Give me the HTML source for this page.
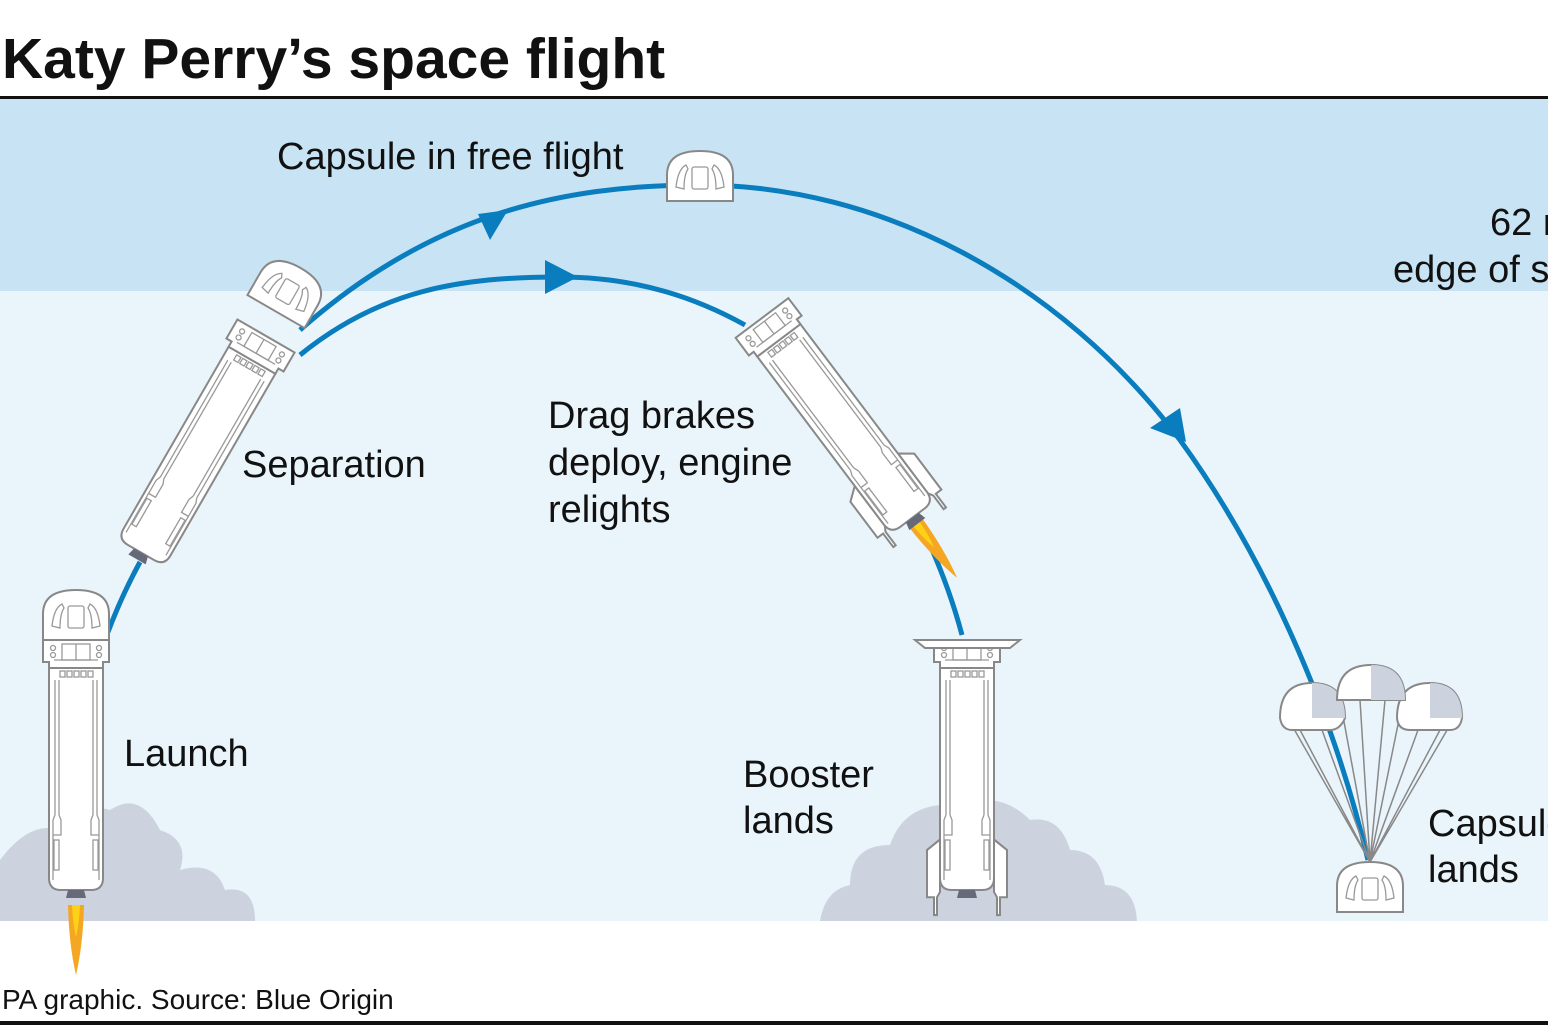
<!DOCTYPE html>
<html><head><meta charset="utf-8"><style>
html,body{margin:0;padding:0;background:#fff;}
svg{display:block;}
text{font-family:"Liberation Sans",Arial,sans-serif;fill:#111;}
</style></head><body>
<svg width="1548" height="1032" viewBox="0 0 1548 1032" xmlns="http://www.w3.org/2000/svg">
<defs>
  <g id="booster" fill="#fff" stroke="#888" stroke-width="2">
    <path d="M-27,28 L-27,238 Q-27,250 -15,250 L15,250 Q27,250 27,238 L27,28 Z"/>
    <path d="M-33,0 L33,0 L33,22 L27,22 L27,28 L-27,28 L-27,22 L-33,22 Z"/>
    <g fill="none" stroke="#999" stroke-width="1.3">
      <rect x="-14" y="4" width="28" height="16"/>
      <line x1="0" y1="4" x2="0" y2="20"/>
      <line x1="-22" y1="20" x2="22" y2="20"/>
      <circle cx="-23" cy="8" r="2.5"/><circle cx="-23" cy="15" r="2.5"/>
      <circle cx="23" cy="8" r="2.5"/><circle cx="23" cy="15" r="2.5"/>
      <rect x="-16" y="31" width="5" height="6"/><rect x="-9" y="31" width="5" height="6"/><rect x="-2" y="31" width="5" height="6"/><rect x="5" y="31" width="5" height="6"/><rect x="12" y="31" width="5" height="6"/>
      <line x1="-21" y1="40" x2="-21" y2="175"/><line x1="-17" y1="40" x2="-17" y2="175"/>
      <line x1="21" y1="40" x2="21" y2="175"/><line x1="17" y1="40" x2="17" y2="175"/>
      <path d="M-21,175 L-23,180 L-23,240 M-17,175 L-15,180 L-15,195 L-23,195"/>
      <path d="M21,175 L23,180 L23,240 M17,175 L15,180 L15,195 L23,195"/>
      <rect x="-22" y="200" width="5" height="30"/><rect x="17" y="200" width="5" height="30"/>
    </g>
    <path d="M-8,250 L8,250 L10,258 L-10,258 Z" fill="#666a78" stroke="none"/>
  </g>
  <g id="capsule" fill="#fff" stroke="#888" stroke-width="2">
    <path d="M-33,48 L-33,22 Q-33,-2 0,-2 Q33,-2 33,22 L33,48 Z"/>
    <g fill="none" stroke="#999" stroke-width="1.3">
      <rect x="-8" y="14" width="16" height="22" rx="2"/>
      <path d="M-14,12 Q-22,16 -24,34 L-16,36 Q-16,22 -12,16 Z"/>
      <path d="M14,12 Q22,16 24,34 L16,36 Q16,22 12,16 Z"/>
    </g>
  </g>
  <g id="flame"><path d="M-8,0 L8,0 Q7,40 0,70 Q-7,40 -8,0 Z" fill="#f5a623"/><path d="M-4,0 L4,0 Q3,20 0,32 Q-3,20 -4,0 Z" fill="#fcd116"/></g>
  <g id="fins" fill="#fff" stroke="#888" stroke-width="2">
    <path d="M-27,190 L-40,200 L-40,245 L-33,245 L-33,262 L-30,262 L-30,245 L-27,240 Z"/>
    <path d="M27,190 L40,200 L40,245 L33,245 L33,262 L30,262 L30,245 L27,240 Z"/>
  </g>
</defs>

<text x="2" y="78" font-size="57" font-weight="bold">Katy Perry’s space flight</text>
<rect x="0" y="96" width="1548" height="3" fill="#111"/>
<rect x="0" y="99" width="1548" height="192" fill="#c8e4f4"/>
<rect x="0" y="291" width="1548" height="630" fill="#eaf5fb"/>

<g fill="#cdd3de">
  <path d="M0,921 L0,860 Q30,820 60,830 Q75,800 110,810 Q140,790 160,830 Q190,840 180,870 Q215,860 225,890 Q255,885 255,921 Z"/>
  <path d="M820,921 Q825,890 850,885 Q850,845 890,845 Q905,800 960,805 Q1000,790 1030,820 Q1060,815 1070,850 Q1100,850 1105,885 Q1135,885 1137,921 Z"/>
</g>

<g fill="none" stroke="#0a7dbf" stroke-width="5">
  <path d="M108,632 Q122,595 140,562"/>
  <path d="M300,330 C430,215 560,185 700,185 C880,185 1060,280 1180,440 C1260,550 1330,700 1368,860"/>
  <path d="M300,355 C380,290 460,277 560,277 C640,277 700,300 745,325"/>
  <path d="M930,545 Q950,590 962,635"/>
</g>
<g fill="#0a7dbf">
  <path d="M478,214 L508,210 L490,240 Z"/>
  <path d="M545,260 L578,277 L545,294 Z"/>
  <path d="M1150,428 L1180,408 L1186,442 Z"/>
</g>

<use href="#flame" transform="translate(76,905)"/>
<use href="#booster" transform="translate(76,640)"/>
<use href="#capsule" transform="translate(76,592)"/>

<use href="#booster" transform="translate(266,336) rotate(30)"/>
<use href="#capsule" transform="translate(300,270) rotate(30)"/>

<use href="#flame" transform="translate(915,522) rotate(-37)"/>
<use href="#fins" transform="translate(762,318) rotate(-37)"/>
<use href="#booster" transform="translate(762,318) rotate(-37)"/>

<use href="#fins" transform="translate(967,640) scale(1,1.05)"/>
<use href="#booster" transform="translate(967,640)"/>
<path d="M915,640 L1020,640 L1010,648 L925,648 Z" fill="#fff" stroke="#888" stroke-width="2"/>

<use href="#capsule" transform="translate(700,153)"/>

<g stroke="#888" stroke-width="1.5" fill="none">
  <path d="M1282,708 L1370,862 M1300,730 L1370,862 M1322,730 L1370,862 M1340,700 L1370,862 M1360,700 L1370,862 M1385,700 L1370,862 M1403,700 L1370,862 M1418,730 L1370,862 M1440,730 L1370,862 M1460,708 L1370,862"/>
</g>
<g stroke="#888" stroke-width="2">
  <path d="M1280,718 Q1280,683 1312,683 Q1345,683 1345,718 Q1340,730 1330,730 L1292,730 Q1282,730 1280,718 Z" fill="#fff"/>
  <path d="M1312,683 Q1345,683 1345,718 L1312,718 Z" fill="#cdd3de" stroke="none"/>
  <path d="M1397,718 Q1397,683 1430,683 Q1462,683 1462,718 Q1460,730 1450,730 L1410,730 Q1398,730 1397,718 Z" fill="#fff"/>
  <path d="M1430,683 Q1462,683 1462,718 L1430,718 Z" fill="#cdd3de" stroke="none"/>
  <path d="M1337,700 Q1337,665 1371,665 Q1405,665 1405,700 Z" fill="#fff"/>
  <path d="M1371,665 Q1405,665 1405,700 L1371,700 Z" fill="#cdd3de" stroke="none"/>
</g>
<use href="#capsule" transform="translate(1370,864)"/>

<g font-size="38">
  <text x="277" y="169">Capsule in free flight</text>
  <text x="1490" y="235">62 miles</text>
  <text x="1393" y="282">edge of space</text>
  <text x="242" y="477">Separation</text>
  <text x="548" y="428">Drag brakes</text>
  <text x="548" y="475">deploy, engine</text>
  <text x="548" y="522">relights</text>
  <text x="124" y="766">Launch</text>
  <text x="743" y="787">Booster</text>
  <text x="743" y="833">lands</text>
  <text x="1428" y="836">Capsule</text>
  <text x="1428" y="882">lands</text>
</g>
<text x="2" y="1009" font-size="28">PA graphic. Source: Blue Origin</text>
<rect x="0" y="1021" width="1548" height="4" fill="#111"/>
</svg>
</body></html>
